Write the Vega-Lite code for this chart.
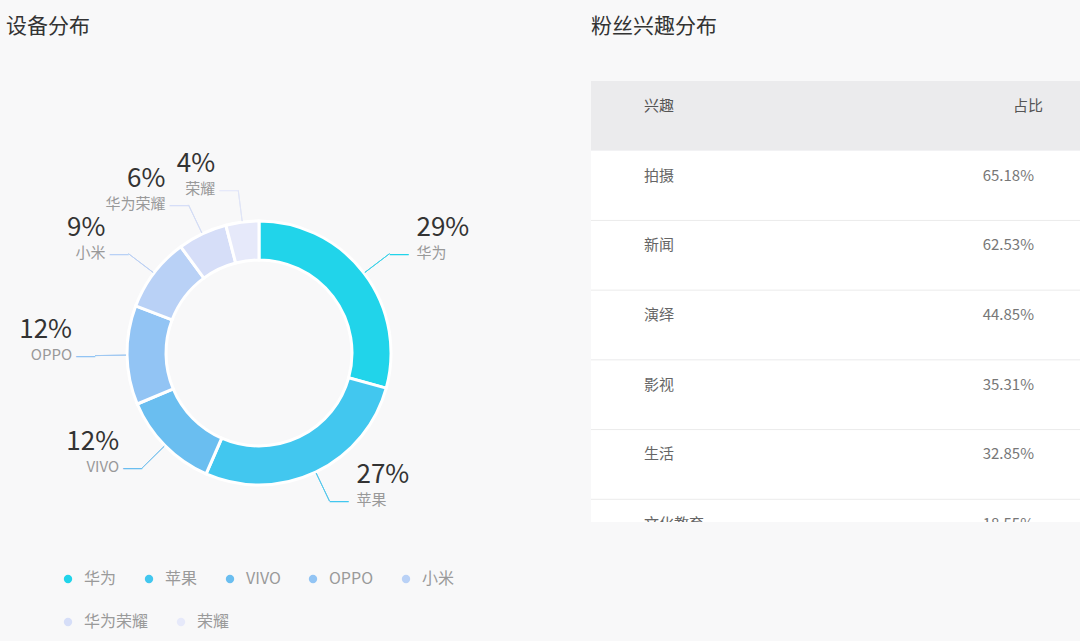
{
  "$schema": "https://vega.github.io/schema/vega-lite/v6.json",
  "background": "#f8f8f9",
  "padding": {"top": 16, "left": 0, "right": 0, "bottom": 0},
  "autosize": {"type": "pad"},
  "spacing": 73,
  "config": {
    "view": {"stroke": null},
    "font": "Noto Sans CJK SC"
  },
  "datasets": {
    "devices": [
      {"brand": "华为", "value": 29, "pct": "29%", "idx": 1},
      {"brand": "苹果", "value": 27, "pct": "27%", "idx": 2},
      {"brand": "VIVO", "value": 12, "pct": "12%", "idx": 3},
      {"brand": "OPPO", "value": 12, "pct": "12%", "idx": 4},
      {"brand": "小米", "value": 9, "pct": "9%", "idx": 5},
      {"brand": "华为荣耀", "value": 6, "pct": "6%", "idx": 6},
      {"brand": "荣耀", "value": 4, "pct": "4%", "idx": 7}
    ],
    "interests": [
      {"row": "表头", "name": "兴趣", "ratio": "占比"},
      {"row": "拍摄", "name": "拍摄", "ratio": "65.18%"},
      {"row": "新闻", "name": "新闻", "ratio": "62.53%"},
      {"row": "演绎", "name": "演绎", "ratio": "44.85%"},
      {"row": "影视", "name": "影视", "ratio": "35.31%"},
      {"row": "生活", "name": "生活", "ratio": "32.85%"},
      {"row": "文化教育", "name": "文化教育", "ratio": "18.55%"}
    ]
  },
  "hconcat": [
    {
      "width": 518,
      "height": 580,
      "title": {"text": "设备分布", "anchor": "start", "frame": "group", "fontSize": 21, "fontWeight": "normal", "color": "#333333", "dx": 6, "offset": 26},
      "data": {"name": "devices"},
      "encoding": {
        "theta": {"field": "value", "type": "quantitative", "stack": true},
        "order": {"field": "idx", "type": "quantitative"}
      },
      "layer": [
        {
          "mark": {"type": "arc", "innerRadius": 93, "outerRadius": 132, "stroke": "#ffffff", "strokeWidth": 3},
          "encoding": {
            "color": {
              "field": "brand", "type": "nominal",
              "scale": {
                "domain": ["华为", "苹果", "VIVO", "OPPO", "小米", "华为荣耀", "荣耀"],
                "range": ["#21d4ea", "#42c7ef", "#6abef0", "#92c4f4", "#b9d1f6", "#d6def8", "#e6e9fa"]
              },
              "legend": {
                "title": null, "orient": "none", "legendX": 60, "legendY": 508,
                "values": ["华为", "苹果", "VIVO", "OPPO", "小米"],
                "direction": "horizontal", "columns": 5,
                "symbolType": "circle", "symbolSize": 70, "symbolStrokeWidth": 0, "symbolOpacity": 1,
                "labelFontSize": 16, "labelColor": "#9a9a9a", "labelOffset": 8,
                "columnPadding": 24, "padding": 0
              }
            }
          }
        },
        {
          "transform": [{"filter": "datum.idx >= 6"}],
          "mark": {"type": "arc", "innerRadius": 93, "outerRadius": 132, "opacity": 0},
          "encoding": {
            "fill": {
              "field": "brand", "type": "nominal",
              "scale": {"domain": ["华为荣耀", "荣耀"], "range": ["#d6def8", "#e6e9fa"]},
              "legend": {
                "title": null, "orient": "none", "legendX": 60, "legendY": 551,
                "direction": "horizontal", "columns": 2,
                "symbolType": "circle", "symbolSize": 70, "symbolStrokeWidth": 0, "symbolOpacity": 1,
                "labelFontSize": 16, "labelColor": "#9a9a9a", "labelOffset": 8,
                "columnPadding": 24, "padding": 0
              }
            }
          }
        },
        {
          "mark": {"type": "arc", "innerRadius": 133, "outerRadius": 164, "padAngle": 3, "fill": "transparent", "strokeWidth": 1},
          "encoding": {
            "stroke": {
              "field": "brand", "type": "nominal",
              "scale": {
                "domain": ["华为", "苹果", "VIVO", "OPPO", "小米", "华为荣耀", "荣耀"],
                "range": ["#3fd2e8", "#55c8ec", "#7cc3ee", "#9fc8f2", "#bcd0f3", "#d3dcf5", "#e0e5f7"]
              },
              "legend": null
            }
          }
        },
        {
          "mark": {"type": "text", "radius": 164, "align": "left", "baseline": "middle", "dy": -1, "fontSize": 19, "font": "Liberation Sans"},
          "encoding": {
            "color": {"field": "brand", "type": "nominal"},
            "text": {"condition": {"test": "datum.idx <= 2", "value": "—"}, "value": ""}
          }
        },
        {
          "mark": {"type": "text", "radius": 164, "align": "right", "baseline": "middle", "dy": -1, "fontSize": 19, "font": "Liberation Sans"},
          "encoding": {
            "color": {"field": "brand", "type": "nominal"},
            "text": {"condition": {"test": "datum.idx >= 3", "value": "—"}, "value": ""}
          }
        },
        {
          "mark": {"type": "text", "radius": 164, "align": "left", "baseline": "middle", "dx": 27, "dy": -26, "fontSize": 26},
          "encoding": {"color": {"value": "#333333"}, "text": {"condition": {"test": "datum.idx <= 2", "field": "pct"}, "value": ""}}
        },
        {
          "mark": {"type": "text", "radius": 164, "align": "left", "baseline": "middle", "dx": 27, "dy": -1, "fontSize": 15},
          "encoding": {"color": {"value": "#999999"}, "text": {"condition": {"test": "datum.idx <= 2", "field": "brand"}, "value": ""}}
        },
        {
          "mark": {"type": "text", "radius": 164, "align": "right", "baseline": "middle", "dx": -23, "dy": -26, "fontSize": 26},
          "encoding": {"color": {"value": "#333333"}, "text": {"condition": {"test": "datum.idx >= 3", "field": "pct"}, "value": ""}}
        },
        {
          "mark": {"type": "text", "radius": 164, "align": "right", "baseline": "middle", "dx": -23, "dy": -1, "fontSize": 15},
          "encoding": {"color": {"value": "#999999"}, "text": {"condition": {"test": "datum.idx >= 3", "field": "brand"}, "value": ""}}
        }
      ]
    },
    {
      "width": 489,
      "height": 459,
      "title": {"text": "粉丝兴趣分布", "anchor": "start", "frame": "group", "fontSize": 21, "fontWeight": "normal", "color": "#333333", "offset": 26},
      "data": {"name": "interests"},
      "encoding": {
        "y": {
          "field": "row", "type": "nominal",
          "scale": {"type": "band", "domain": ["表头", "拍摄", "新闻", "演绎", "影视", "生活", "文化教育"], "range": [18, 506], "paddingInner": 0, "paddingOuter": 0},
          "axis": null
        }
      },
      "layer": [
        {
          "mark": {"type": "rect", "clip": true},
          "encoding": {"color": {"condition": {"test": "datum.row === '表头'", "value": "#ebebed"}, "value": "#ffffff"}}
        },
        {
          "transform": [{"filter": "datum.row !== '表头' && datum.row !== '拍摄'"}],
          "mark": {"type": "rule", "clip": true, "color": "#ebebeb", "strokeWidth": 1},
          "encoding": {
            "y": {"field": "row", "type": "nominal", "bandPosition": 0}
          }
        },
        {
          "transform": [{"fold": ["name", "ratio"], "as": ["col", "txt"]}, {"filter": "datum.col === 'name'"}],
          "mark": {"type": "text", "align": "left", "baseline": "middle", "dy": -10, "fontSize": 15, "clip": true},
          "encoding": {
            "x": {"field": "col", "type": "nominal", "scale": {"type": "point", "domain": ["name", "ratio"], "range": [53, 443], "padding": 0}, "axis": null},
            "text": {"field": "txt"},
            "color": {"condition": {"test": "datum.row === '表头'", "value": "#555555"}, "value": "#666666"}
          }
        },
        {
          "transform": [{"fold": ["name", "ratio"], "as": ["col", "txt"]}, {"filter": "datum.col === 'ratio' && datum.row !== '表头'"}],
          "mark": {"type": "text", "align": "right", "baseline": "middle", "dy": -10, "fontSize": 15, "clip": true, "color": "#777777"},
          "encoding": {
            "x": {"field": "col", "type": "nominal", "axis": null},
            "text": {"field": "txt"}
          }
        },
        {
          "transform": [{"fold": ["name", "ratio"], "as": ["col", "txt"]}, {"filter": "datum.col === 'ratio' && datum.row === '表头'"}],
          "mark": {"type": "text", "align": "right", "baseline": "middle", "dx": 9, "dy": -10, "fontSize": 15, "clip": true, "color": "#555555"},
          "encoding": {
            "x": {"field": "col", "type": "nominal", "axis": null},
            "text": {"field": "txt"}
          }
        }
      ]
    }
  ]
}
